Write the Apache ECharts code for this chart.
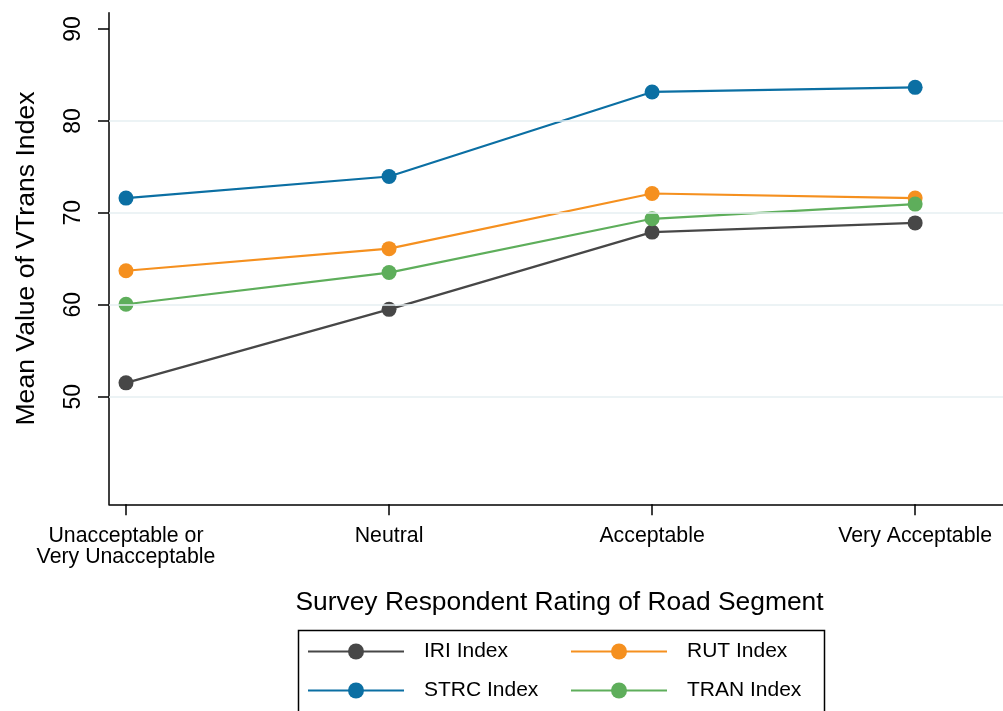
<!DOCTYPE html>
<html>
<head>
<meta charset="utf-8">
<script src="https://cdn.jsdelivr.net/npm/echarts@6/dist/echarts.min.js"></script>
<style>
html,body{margin:0;padding:0;background:#fff;}
#chart{width:1003px;height:711px;}
</style>
</head>
<body>
<div id="chart"></div>
<script>
const categories = ['Unacceptable or\nVery Unacceptable', 'Neutral', 'Acceptable', 'Very Acceptable'];
const categoryPositions = [0, 1, 2, 3];
const iriValues = [51.5, 59.5, 67.9, 68.9];
const rutValues = [63.7, 66.1, 72.1, 71.6];
const strcValues = [71.6, 73.95, 83.15, 83.65];
const tranValues = [60.05, 63.5, 69.35, 70.95];
const yTickLabels = [50, 60, 70, 80, 90];
const gridLineValues = [50, 60, 70, 80];
const seriesNames = ['IRI Index', 'RUT Index', 'STRC Index', 'TRAN Index'];

const FONT = '"Liberation Sans", Arial, Helvetica, sans-serif';
const colors = {
  'IRI Index': '#474747',
  'RUT Index': '#f5901f',
  'STRC Index': '#0b6fa3',
  'TRAN Index': '#5eae5b'
};
const valuesByName = {
  'IRI Index': iriValues,
  'RUT Index': rutValues,
  'STRC Index': strcValues,
  'TRAN Index': tranValues
};

function toPairs(vals) {
  return vals.map((v, i) => [categoryPositions[i], v]);
}

const chart = echarts.init(document.getElementById('chart'), null, {renderer: 'canvas'});

const lineSeries = seriesNames.map(name => ({
  name: name,
  type: 'line',
  data: toPairs(valuesByName[name]),
  symbol: 'circle',
  symbolSize: 15,
  showSymbol: true,
  color: colors[name],
  lineStyle: {width: 2.2, color: colors[name]},
  itemStyle: {color: colors[name]},
  z: 3,
  animation: false
}));

const gridSeries = {
  name: '__grid',
  type: 'line',
  data: [],
  silent: true,
  z: 1,
  markLine: {
    silent: true,
    symbol: ['none', 'none'],
    label: {show: false},
    lineStyle: {color: '#e6eff2', width: 1.5, type: 'solid'},
    data: gridLineValues.map(v => ({yAxis: v})),
    animation: false
  }
};

const legendCommon = {
  orient: 'vertical',
  padding: 0,
  itemWidth: 96,
  itemHeight: 20,
  itemGap: 18,
  textStyle: {fontFamily: FONT, fontSize: 21, color: '#000', lineHeight: 21, padding: [0, 0, 0, 15]},
  selectedMode: false
};

const option = {
  backgroundColor: '#fff',
  animation: false,
  textStyle: {fontFamily: FONT},
  grid: {left: 109, right: 0, top: 12.7, bottom: 206.7, containLabel: false},
  xAxis: {
    type: 'value',
    min: -0.0646,
    max: 3.334,
    name: 'Survey Respondent Rating of Road Segment',
    nameLocation: 'middle',
    nameGap: 85,
    nameTextStyle: {fontFamily: FONT, fontSize: 26.4, color: '#000', padding: [0, 0, 0, 7]},
    axisLine: {show: true, onZero: false, lineStyle: {color: '#000', width: 1.5}},
    axisTick: {show: true, length: 11, lineStyle: {color: '#000', width: 1.5}, customValues: categoryPositions},
    axisLabel: {
      show: true,
      customValues: categoryPositions,
      formatter: v => categories[Math.round(v)],
      fontFamily: FONT, fontSize: 21.3, color: '#000', lineHeight: 21, margin: 21
    },
    splitLine: {show: false}
  },
  yAxis: {
    type: 'value',
    min: 38.29,
    max: 91.77,
    name: 'Mean Value of VTrans Index',
    nameLocation: 'middle',
    nameGap: 69,
    nameTextStyle: {fontFamily: FONT, fontSize: 26.6, color: '#000'},
    axisLine: {show: true, onZero: false, lineStyle: {color: '#000', width: 1.5}},
    axisTick: {show: true, length: 11, lineStyle: {color: '#000', width: 1.5}, customValues: yTickLabels},
    axisLabel: {
      show: true,
      customValues: yTickLabels,
      rotate: 90,
      fontFamily: FONT, fontSize: 23, color: '#000', margin: 24
    },
    splitLine: {show: false}
  },
  legend: [
    Object.assign({}, legendCommon, {data: ['IRI Index', 'STRC Index'], left: 307, top: 641}),
    Object.assign({}, legendCommon, {data: ['RUT Index', 'TRAN Index'], left: 570, top: 641})
  ],
  graphic: [{
    type: 'rect',
    left: 296, top: 628,
    shape: {x: 0, y: 0, width: 526, height: 120},
    style: {fill: 'none', stroke: '#000', lineWidth: 1.5},
    silent: true,
    z: 0
  }],
  series: [gridSeries].concat(lineSeries)
};

chart.setOption(option);
</script>
</body>
</html>
